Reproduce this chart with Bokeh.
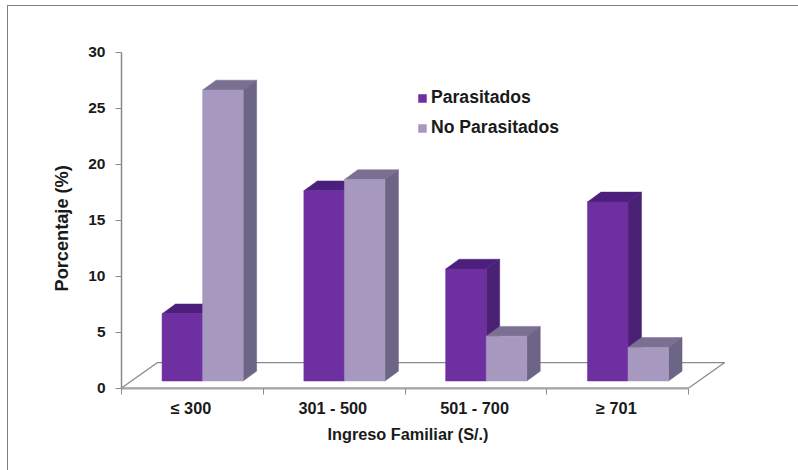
from bokeh.embed import file_html
from bokeh.models import (FixedTicker, InlineStyleSheet, Legend, LegendItem,
                          LinearAxis, Range1d, Title)
from bokeh.plotting import figure
from bokeh.resources import INLINE

# Survey results: share of each income group, in percent
categories = ["≤ 300", "301 - 500", "501 - 700", "≥ 701"]
parasitados = [6, 17, 10, 16]
no_parasitados = [26, 18, 4, 3]
y_ticks = [0, 5, 10, 15, 20, 25, 30]

FONT = "Liberation Sans"
INK = "#1a1a1a"
PURPLE = ("#6e2fa0", "#4c1f7c", "#4a2175")   # front, top, side
LILAC = ("#a698bf", "#7b7092", "#6d6585")
GRID = "#8a8a8a"

# Pseudo-3D geometry, in data units
BAR_W = 0.286
BAR_GAP = 0.286
BAR_DX = 0.095
BAR_DY = 0.88
BASE = 0.63
FLOOR_DX = 0.254
FLOOR_DY = 2.28
LABEL_POS = 0.49

WIDTH, HEIGHT = 798, 470
LEFT, BOTTOM, TOP = 121, 82, 6

p = figure(width=WIDTH, height=HEIGHT, output_backend="svg", toolbar_location=None,
           x_range=Range1d(0, (WIDTH - LEFT) / 141.8),
           y_range=Range1d(-0.04, (HEIGHT - BOTTOM - TOP) / 11.19 - 0.04),
           x_axis_type=None, y_axis_type=None,
           min_border_left=LEFT, min_border_right=0, min_border_top=TOP,
           min_border_bottom=BOTTOM, outline_line_color=None,
           background_fill_color="white", border_fill_color="white")
p.grid.visible = False

n = len(categories)

# Floor of the chart
p.patch([0, n, n + FLOOR_DX, FLOOR_DX], [0, 0, FLOOR_DY, FLOOR_DY],
        fill_color="white", line_color=GRID, line_width=1.3)


def draw_bars(values, start, colors):
    x0 = [i + start for i in range(n)]
    x1 = [x + BAR_W for x in x0]
    tops = [v + BASE for v in values]
    p.patches(
        [[a, b, b + BAR_DX, a + BAR_DX] for a, b in zip(x0, x1)],
        [[t, t, t + BAR_DY, t + BAR_DY] for t in tops],
        fill_color=colors[1], line_color=colors[1], line_width=0.5)
    p.patches(
        [[b, b + BAR_DX, b + BAR_DX, b] for b in x1],
        [[BASE, BASE + BAR_DY, t + BAR_DY, t] for t in tops],
        fill_color=colors[2], line_color=colors[2], line_width=0.5)
    return p.quad(left=x0, right=x1, bottom=[BASE] * n, top=tops,
                  fill_color=colors[0], line_color=colors[0], line_width=0.5)


front_a = draw_bars(parasitados, BAR_GAP, PURPLE)
front_b = draw_bars(no_parasitados, BAR_GAP + BAR_W, LILAC)

# Axes
y_axis = LinearAxis(ticker=FixedTicker(ticks=y_ticks), bounds=(0, 30))
x_axis = LinearAxis(
    ticker=FixedTicker(ticks=[i + LABEL_POS for i in range(n)],
                       minor_ticks=list(range(n + 1))),
    major_label_overrides={i + LABEL_POS: c for i, c in enumerate(categories)},
    bounds=(0, n))
for ax in (x_axis, y_axis):
    ax.axis_line_color = GRID
    ax.axis_line_width = 1.5
    ax.major_tick_line_color = GRID
    ax.minor_tick_line_color = GRID
    ax.major_label_text_font = FONT
    ax.major_label_text_font_style = "bold"
    ax.major_label_text_color = INK
y_axis.major_label_text_font_size = "15.5px"
y_axis.major_tick_out = 6
y_axis.major_tick_in = 0
y_axis.minor_tick_out = 0
y_axis.minor_tick_in = 0
y_axis.major_label_standoff = 10
x_axis.major_label_text_font_size = "16.3px"
x_axis.axis_line_color = "#a6a6a6"
x_axis.axis_line_width = 2
x_axis.major_tick_out = 0
x_axis.major_tick_in = 0
x_axis.minor_tick_out = 6
x_axis.minor_tick_in = 0
x_axis.major_label_standoff = 4
p.add_layout(y_axis, "left")
p.add_layout(x_axis, "below")

# Axis titles, offset from the start of each axis panel
p.add_layout(Title(text="Ingreso Familiar (S/.)", align="left", offset=206, standoff=7,
                   text_font=FONT, text_font_style="bold", text_font_size="16.3px",
                   text_color=INK), "below")
p.add_layout(Title(text="Porcentaje (%)", align="left", offset=97, standoff=27,
                   text_font=FONT, text_font_style="bold", text_font_size="18.2px",
                   text_color=INK), "left")

# Legend
legend = Legend(
    items=[LegendItem(label="Parasitados", renderers=[front_a]),
           LegendItem(label="No Parasitados", renderers=[front_b])],
    location=(296, 250), orientation="vertical", background_fill_alpha=0,
    border_line_color=None, padding=0, margin=0, spacing=9,
    glyph_width=10, glyph_height=10, label_standoff=4, label_height=20,
    label_text_font=FONT, label_text_font_style="bold", label_text_font_size="17.6px",
    label_text_color=INK, label_text_baseline="middle")
p.add_layout(legend, "center")

# Thin rule along the top and left edges of the page
p.stylesheets = [InlineStyleSheet(css="""
:host { position: relative; }
:host::after {
  content: ""; position: absolute; left: 7px; top: 5px; right: 0; bottom: 0;
  border-left: 1.5px solid #808080; border-top: 1.5px solid #808080;
  pointer-events: none;
}
""")]

open("out.html", "w").write(file_html(p, INLINE))
